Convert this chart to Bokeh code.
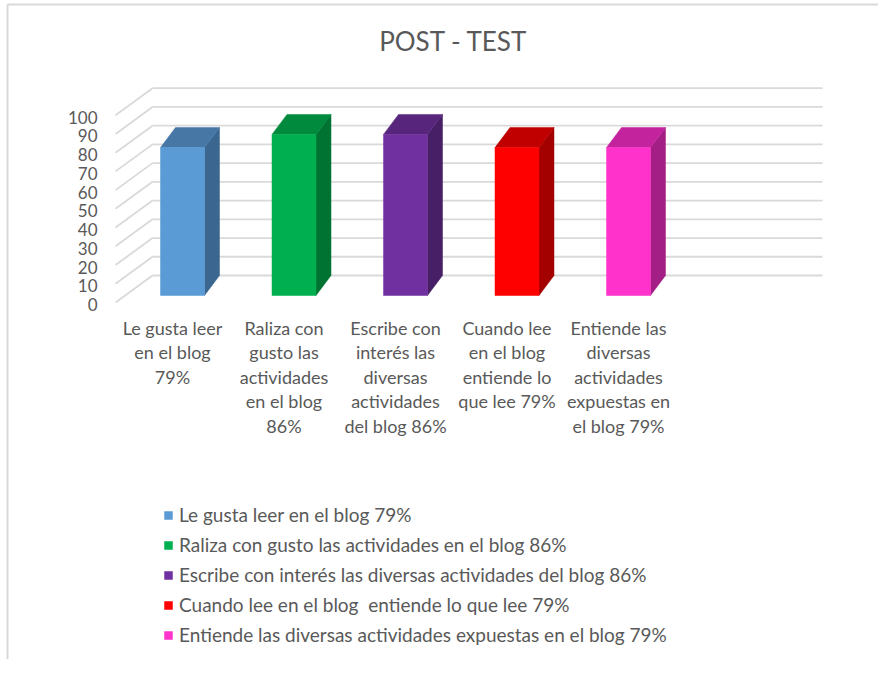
from bokeh.plotting import figure
from bokeh.models import ColumnDataSource, Range1d, Legend, LegendItem
from bokeh.core.properties import value
from bokeh.embed import file_html
from bokeh.resources import INLINE

# ---------------- data ----------------
title_text = "POST - TEST"
categories = [
    "Le gusta leer en el blog 79%",
    "Raliza con gusto las actividades en el blog 86%",
    "Escribe con interés las diversas actividades del blog 86%",
    "Cuando lee en el blog  entiende lo que lee 79%",
    "Entiende las diversas actividades expuestas en el blog 79%",
]
axis_labels = [
    "Le gusta leer\nen el blog\n79%",
    "Raliza con\ngusto las\nactividades\nen el blog\n86%",
    "Escribe con\ninterés las\ndiversas\nactividades\ndel blog 86%",
    "Cuando lee\nen el blog\nentiende lo\nque lee 79%",
    "Entiende las\ndiversas\nactividades\nexpuestas en\nel blog 79%",
]
values = [79, 86, 86, 79, 79]
y_ticks = [0, 10, 20, 30, 40, 50, 60, 70, 80, 90, 100]

front_colors = ["#5B9BD5", "#00B050", "#7030A0", "#FF0000", "#FF33CC"]
top_colors = ["#4677A5", "#008A3E", "#57267C", "#C00000", "#C4239E"]
side_colors = ["#3B6690", "#007332", "#461F66", "#A30000", "#A31F85"]

# ---------------- layout (pixel geometry) ----------------
W, H = 878, 659
CAT0_PX = 182.0        # x of first bar centre (px)
CAT_PITCH = 111.5      # px per category
ZERO_PX = 295.0        # y of value 0 on the bar front plane (px from top)
PX_PER_VAL = 1.873     # px per value unit


def ux(px):
    return px / CAT_PITCH


def uy(px):
    return px / PX_PER_VAL


def xpage(px):
    return (px - CAT0_PX) / CAT_PITCH


def ypage(py):
    return (ZERO_PX - py) / PX_PER_VAL


p = figure(width=W, height=H, output_backend="svg", toolbar_location=None,
           x_range=Range1d(xpage(0), xpage(W)), y_range=Range1d(ypage(H), ypage(0)),
           min_border=0)
p.xaxis.visible = False
p.yaxis.visible = False
p.xgrid.visible = False
p.ygrid.visible = False
p.outline_line_color = None
p.background_fill_color = "white"
p.border_fill_color = "white"

TEXT_COLOR = "#595959"
FONT_NAME = "Lato"
FONT = value(FONT_NAME)
GRID_COLOR = "#D9D9D9"

# chart-area border (top and left edges visible)
p.segment(x0=[xpage(7), xpage(7)], y0=[ypage(4), ypage(4)],
          x1=[xpage(W), xpage(7)], y1=[ypage(4), ypage(H)],
          line_color="#D9D9D9", line_width=2)

back_left = xpage(152)
back_right = xpage(822)
front_left = xpage(115)

p.segment(x0=[back_left] * len(y_ticks), y0=[v + uy(20) for v in y_ticks],
          x1=[back_right] * len(y_ticks), y1=[v + uy(20) for v in y_ticks],
          line_color=GRID_COLOR, line_width=1.8)
p.segment(x0=[front_left] * len(y_ticks), y0=[v - uy(7) for v in y_ticks],
          x1=[back_left] * len(y_ticks), y1=[v + uy(20) for v in y_ticks],
          line_color=GRID_COLOR, line_width=1.8)

# y tick labels
p.text(x=[xpage(97)] * len(y_ticks), y=[v - uy(9) for v in y_ticks],
       text=[str(v) for v in y_ticks], text_align="right", text_baseline="middle",
       text_font=FONT, text_font_size="17px", text_color=TEXT_COLOR)

# bars
idx = list(range(len(values)))
HW = ux(22)
DX, DY = ux(15), uy(20)

side_xs, side_ys, top_xs, top_ys = [], [], [], []
for c, v in zip(idx, values):
    side_xs.append([c + HW, c + HW + DX, c + HW + DX, c + HW])
    side_ys.append([0, DY, v + DY, v])
    top_xs.append([c - HW, c + HW, c + HW + DX, c - HW + DX])
    top_ys.append([v, v, v + DY, v + DY])

p.patches(xs=side_xs, ys=side_ys, fill_color=side_colors, line_color=side_colors, line_width=0.5)
p.patches(xs=top_xs, ys=top_ys, fill_color=top_colors, line_color=top_colors, line_width=0.5)

src = ColumnDataSource(dict(left=[c - HW for c in idx], right=[c + HW for c in idx],
                            bottom=[0] * len(idx), top=values, color=front_colors,
                            label=categories))
front = p.quad(left="left", right="right", bottom="bottom", top="top", source=src,
               fill_color="color", line_color="color", line_width=0.5)

# category labels
p.text(x=[c - ux(10) for c in idx], y=[-uy(21)] * len(idx), text=axis_labels,
       text_align="center", text_baseline="top", text_font=FONT,
       text_font_size="18px", text_color=TEXT_COLOR, text_line_height=1.12)

# title
p.text(x=[xpage(453)], y=[ypage(40)], text=[title_text], text_align="center",
       text_baseline="middle", text_font=FONT, text_font_size="26px",
       text_color=TEXT_COLOR)

# legend
items = [LegendItem(label=categories[i], renderers=[front], index=i) for i in idx]
legend = Legend(items=items, location=(163, 13), orientation="vertical",
                glyph_width=10, glyph_height=10, label_standoff=6,
                label_text_font=FONT_NAME, label_text_font_size="19px",
                label_text_color=TEXT_COLOR, label_height=22, spacing=7,
                padding=0, margin=0, border_line_alpha=0, background_fill_alpha=0)
p.add_layout(legend)

open("out.html", "w").write(file_html(p, INLINE))
